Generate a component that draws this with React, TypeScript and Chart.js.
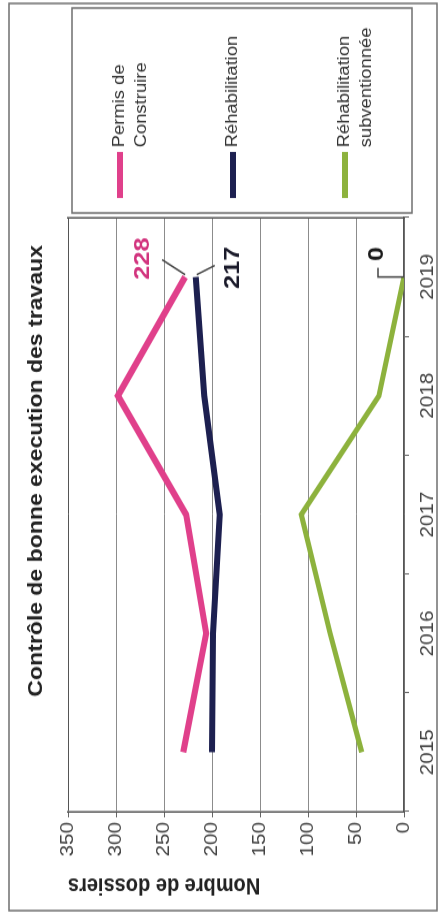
import { useEffect, useRef } from 'react';
import { Chart, registerables } from 'chart.js';

Chart.register(...registerables);

// ---- data ----
const years = ['2015', '2016', '2017', '2018', '2019'];
const permisConstruire = [230, 206, 227, 298, 228];
const rehabilitation = [200, 199, 192, 208, 217];
const rehabSubventionnee = [44, 77, 107, 26, 0];
const seriesNames = [['Permis de', 'Construire'], ['Réhabilitation'], ['Réhabilitation', 'subventionnée']];
const chartTitle = 'Contrôle de bonne execution des travaux';
const yAxisTitle = 'Nombre de dossiers';
const yMin = 0;
const yMax = 350;
const yStep = 50;

const FONT = "'Liberation Sans', Arial, sans-serif";
const PINK = '#e0408b';
const NAVY = '#1d2050';
const GREEN = '#8db23d';

const framePlugin = {
  id: 'frame',
  beforeDraw(chart: any) {
    const { ctx, width, height } = chart;
    ctx.save();
    ctx.fillStyle = '#ffffff';
    ctx.fillRect(0, 0, width, height);
    ctx.strokeStyle = '#6f6f6f';
    ctx.lineWidth = 1.5;
    ctx.strokeRect(9, 9, 788, 428);
    ctx.restore();
  },
};

const legendPlugin = {
  id: 'boxLegend',
  afterDraw(chart: any) {
    const { ctx, chartArea } = chart;
    const { right, top } = chartArea;
    const rows = [52, 165, 277];
    ctx.save();
    ctx.strokeStyle = '#6f6f6f';
    ctx.lineWidth = 1.5;
    ctx.strokeRect(right + 4, top + 4, 178, 340);
    chart.data.datasets.forEach((ds: any, i: number) => {
      const y = top + rows[i];
      ctx.strokeStyle = ds.borderColor;
      ctx.lineWidth = 6;
      ctx.lineCap = 'butt';
      ctx.beginPath();
      ctx.moveTo(right + 17, y);
      ctx.lineTo(right + 57, y);
      ctx.stroke();
      ctx.fillStyle = '#333333';
      ctx.font = `16px ${FONT}`;
      ctx.textAlign = 'left';
      ctx.textBaseline = 'middle';
      seriesNames[i].forEach((line, j) => {
        ctx.fillText(line, right + 61, y + j * 22);
      });
    });
    ctx.restore();
  },
};

const labelStyles = [
  { color: '#d2347e', leader: [[2, 0], [15, -23]], dx: 16, dy: -42 },
  { color: '#1a1a2a', leader: [[2, 1], [10, 19]], dx: 8, dy: 37 },
  { color: '#1a1a1a', leader: [[0, 0], [0, -26], [8, -26]], dx: 20, dy: -27 },
];

const valueLabelPlugin = {
  id: 'lastValueLabels',
  afterDatasetsDraw(chart: any) {
    const { ctx } = chart;
    ctx.save();
    chart.data.datasets.forEach((ds: any, i: number) => {
      const meta = chart.getDatasetMeta(i);
      const last = ds.data.length - 1;
      const pt = meta.data[last];
      if (!pt) return;
      const st = labelStyles[i];
      ctx.strokeStyle = '#444444';
      ctx.lineWidth = 1.5;
      ctx.beginPath();
      st.leader.forEach(([dx, dy], k) => {
        if (k === 0) ctx.moveTo(pt.x + dx, pt.y + dy);
        else ctx.lineTo(pt.x + dx, pt.y + dy);
      });
      ctx.stroke();
      ctx.fillStyle = st.color;
      ctx.font = `bold 22px ${FONT}`;
      ctx.textAlign = 'center';
      ctx.textBaseline = 'middle';
      ctx.fillText(String(ds.data[last]), pt.x + st.dx, pt.y + st.dy);
    });
    ctx.restore();
  },
};

export default function App() {
  const ref = useRef<HTMLCanvasElement>(null);

  useEffect(() => {
    const canvas = ref.current;
    if (!canvas) return;
    Chart.defaults.font.family = FONT;
    const lineDs = (label: string, data: number[], color: string, width: number) => ({
      label,
      data,
      borderColor: color,
      backgroundColor: color,
      borderWidth: width,
      pointRadius: 0,
      pointHoverRadius: 0,
      tension: 0,
      borderJoinStyle: 'miter' as const,
      borderCapStyle: 'butt' as const,
    });
    const chart = new Chart(canvas, {
      type: 'line',
      data: {
        labels: years,
        datasets: [
          lineDs(seriesNames[0].join(' '), permisConstruire, PINK, 6),
          lineDs(seriesNames[1].join(' '), rehabilitation, NAVY, 6),
          lineDs(seriesNames[2].join(' '), rehabSubventionnee, GREEN, 5),
        ],
      },
      options: {
        responsive: false,
        animation: false,
        events: [],
        layout: { padding: { left: 0, right: 18, top: 0, bottom: 0 } },
        plugins: {
          legend: { display: false },
          tooltip: { enabled: false },
          title: {
            display: true,
            text: chartTitle,
            color: '#222222',
            font: { family: FONT, size: 20, weight: 'bold' },
            padding: { top: 24, bottom: 20 },
          },
        },
        scales: {
          x: {
            type: 'category',
            offset: true,
            grid: {
              display: true,
              drawOnChartArea: false,
              drawTicks: true,
              tickLength: 5,
              offset: true,
              color: '#666666',
            },
            border: { display: true, color: '#555555', width: 1.5 },
            ticks: {
              color: '#444444',
              font: { family: FONT, size: 18 },
              padding: 8,
              maxRotation: 0,
              autoSkip: false,
            },
            afterFit: (s: any) => {
              s.height = 36;
            },
          },
          y: {
            min: yMin,
            max: yMax,
            ticks: {
              stepSize: yStep,
              color: '#444444',
              font: { family: FONT, size: 18 },
              padding: 4,
            },
            grid: {
              color: (c: any) => (c.tick && c.tick.value === yMax ? '#555555' : '#8c8c8c'),
              tickColor: '#666666',
              lineWidth: 1,
              tickLength: 5,
              drawTicks: true,
            },
            border: { display: true, color: '#555555', width: 1.5 },
            title: {
              display: true,
              text: yAxisTitle,
              align: 'end',
              color: '#222222',
              font: { family: FONT, size: 20, weight: 'bold' },
              padding: { top: 19, bottom: 0 },
            },
            afterFit: (s: any) => {
              s.width = 95;
            },
          },
          y2: {
            position: 'right',
            display: true,
            grid: { display: true, drawOnChartArea: false, drawTicks: false },
            ticks: { display: false },
            border: { display: true, color: '#555555', width: 1.5 },
            afterFit: (s: any) => {
              s.width = 171;
            },
          },
        },
      } as any,
      plugins: [framePlugin, legendPlugin, valueLabelPlugin],
    });
    return () => chart.destroy();
  }, []);

  return (
    <div
      style={{
        position: 'fixed',
        left: 0,
        top: 0,
        width: 800,
        height: 440,
        transformOrigin: '0 0',
        transform: 'translate(0px, 921px) rotate(-90deg) scaleX(1.15125)',
      }}
    >
      <canvas ref={ref} width={800} height={440} style={{ display: 'block', width: 800, height: 440 }} />
    </div>
  );
}
